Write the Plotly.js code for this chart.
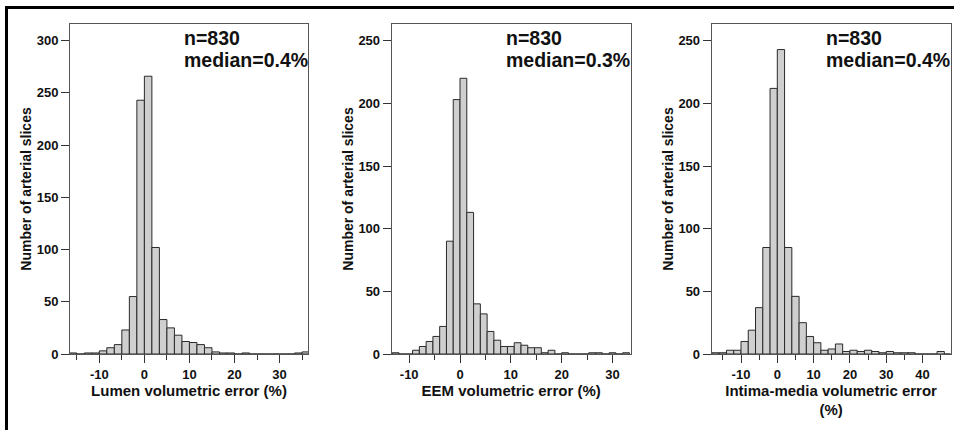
<!DOCTYPE html>
<html>
<head>
<meta charset="utf-8">
<script src="https://cdn.plot.ly/plotly-3.0.1.min.js"></script>
<style>html,body{margin:0;padding:0;background:#fff}#chart{width:954px;height:430px}</style>
</head>
<body>
<div id="chart"></div>
<script>
// ---- Data ----
// Lumen volumetric error: bins of 5/3 %, first bin starts at -16.667 %
const lumenBinStart = -50 / 3;
const lumenBinWidth = 5 / 3;
const lumenCounts = [1, 0, 1, 1, 3, 6, 9, 23, 55, 243, 266, 102, 33, 25, 18, 12, 11, 9, 6, 2, 1, 1, 0, 1, 0, 0, 0, 0, 0, 0, 1, 2];

// EEM volumetric error: bins of 4/3 %, first bin starts at -13.333 %
const eemBinStart = -40 / 3;
const eemBinWidth = 4 / 3;
const eemCounts = [1, 0, 0, 3, 6, 10, 14, 22, 90, 203, 220, 113, 40, 32, 18, 11, 6, 6, 9, 7, 5, 5, 1, 3, 0, 1, 0, 0, 0, 1, 1, 0, 1, 0, 1];

// Intima-media volumetric error: bins of 2 %, first bin starts at -20 %
const imBinStart = -20;
const imBinWidth = 2;
const imCounts = [0, 1, 1, 3, 3, 10, 19, 37, 85, 212, 243, 85, 46, 25, 14, 9, 3, 4, 8, 2, 3, 2, 3, 2, 1, 2, 1, 1, 1, 0, 0, 0, 2, 0];

// Tick labels
const lumenTicks = [-10, 0, 10, 20, 30];
const eemTicks = [-10, 0, 10, 20, 30];
const imTicks = [-10, 0, 10, 20, 30, 40];
const lumenYTicks = [0, 50, 100, 150, 200, 250, 300];
const eemYTicks = [0, 50, 100, 150, 200, 250];
const imYTicks = [0, 50, 100, 150, 200, 250];

const panelTitles = ["Lumen volumetric error (%)", "EEM volumetric error (%)", "Intima-media volumetric error<br>(%)"];
const yTitle = "Number of arterial slices";
const nLabel = "n=830";
const medianLabels = ["median=0.4%", "median=0.3%", "median=0.4%"];

// ---- Build ----
function centers(start, width, counts) {
  return counts.map((_, i) => start + (i + 0.5) * width);
}
const FONT = "Arial, 'Liberation Sans', sans-serif";

function barTrace(start, width, counts, xa, ya) {
  return {
    type: "bar",
    x: centers(start, width, counts),
    y: counts,
    width: width,
    xaxis: xa, yaxis: ya,
    marker: { color: "#cfcfcf", line: { color: "#2a2a2a", width: 1 } },
    hoverinfo: "x+y"
  };
}

const data = [
  barTrace(lumenBinStart, lumenBinWidth, lumenCounts, "x", "y"),
  barTrace(eemBinStart, eemBinWidth, eemCounts, "x2", "y2"),
  barTrace(imBinStart, imBinWidth, imCounts, "x3", "y3")
];

const tickFont = { family: FONT, size: 13, color: "#111", weight: "bold" };
const xTitleFont = { family: FONT, size: 15, color: "#111", weight: "bold" };
const yTitleFont = { family: FONT, size: 14, color: "#111", weight: "bold" };

function xAxis(domain, range, ticks, title, anchor) {
  return {
    domain: domain, range: range, anchor: anchor,
    showline: true, mirror: true, linecolor: "#555", linewidth: 1,
    ticks: "outside", ticklen: 8, tickwidth: 1, tickcolor: "#333",
    tickmode: "array", tickvals: ticks, ticktext: ticks.map(String),
    minor: { ticks: "outside", ticklen: 5, tickwidth: 1, tickcolor: "#333", tick0: 5, dtick: 10, showgrid: false },
    showgrid: false, zeroline: false, fixedrange: true,
    tickfont: tickFont,
    title: { text: title, font: xTitleFont, standoff: 4 }
  };
}
function yAxis(domain, range, ticks, anchor) {
  return {
    domain: domain, range: range, anchor: anchor,
    showline: true, mirror: true, linecolor: "#555", linewidth: 1,
    ticks: "outside", ticklen: 8, tickwidth: 1, tickcolor: "#333",
    tickmode: "array", tickvals: ticks, ticktext: ticks.map(String),
    showgrid: false, zeroline: false, fixedrange: true,
    tickfont: tickFont,
    title: { text: yTitle, font: yTitleFont, standoff: 1 }
  };
}

const yDom = [1 - 354 / 430, 1 - 24 / 430];
const annX = [182 / 954, 503.7 / 954, 823.7 / 954];
const annotations = [];
annX.forEach((ax, i) => {
  annotations.push({ xref: "paper", yref: "paper", x: ax, y: 1 - 38.5 / 430, xanchor: "left", yanchor: "middle",
    text: nLabel, showarrow: false, font: { family: FONT, size: 19.5, color: "#111", weight: "bold" } });
  annotations.push({ xref: "paper", yref: "paper", x: ax, y: 1 - 59.5 / 430, xanchor: "left", yanchor: "middle",
    text: medianLabels[i], showarrow: false, font: { family: FONT, size: 19.5, color: "#111", weight: "bold" } });
});

const layout = {
  width: 954, height: 430,
  margin: { l: 0, r: 0, t: 0, b: 0 },
  paper_bgcolor: "#fff", plot_bgcolor: "#fff",
  showlegend: false, bargap: 0,
  font: { family: FONT, color: "#111" },
  xaxis: xAxis([70 / 954, 308 / 954], [-16.5, 36.3], lumenTicks, panelTitles[0], "y"),
  yaxis: yAxis(yDom, [0, 316], lumenYTicks, "x"),
  xaxis2: xAxis([391.7 / 954, 630.7 / 954], [-13.44, 33.58], eemTicks, panelTitles[1], "y2"),
  yaxis2: yAxis(yDom, [0, 263.3], eemYTicks, "x2"),
  xaxis3: xAxis([711.7 / 954, 950.5 / 954], [-18.07, 47.7], imTicks, panelTitles[2], "y3"),
  yaxis3: yAxis(yDom, [0, 263.4], imYTicks, "x3"),
  annotations: annotations,
  shapes: [
    { type: "line", xref: "paper", yref: "paper", x0: 5 / 954, x1: 1, y0: 1 - 7.5 / 430, y1: 1 - 7.5 / 430, line: { color: "#000", width: 3 } },
    { type: "line", xref: "paper", yref: "paper", x0: 6.5 / 954, x1: 6.5 / 954, y0: 0, y1: 1 - 6 / 430, line: { color: "#000", width: 3 } }
  ]
};

Plotly.newPlot("chart", data, layout, { displayModeBar: false, staticPlot: true });
</script>
</body>
</html>
